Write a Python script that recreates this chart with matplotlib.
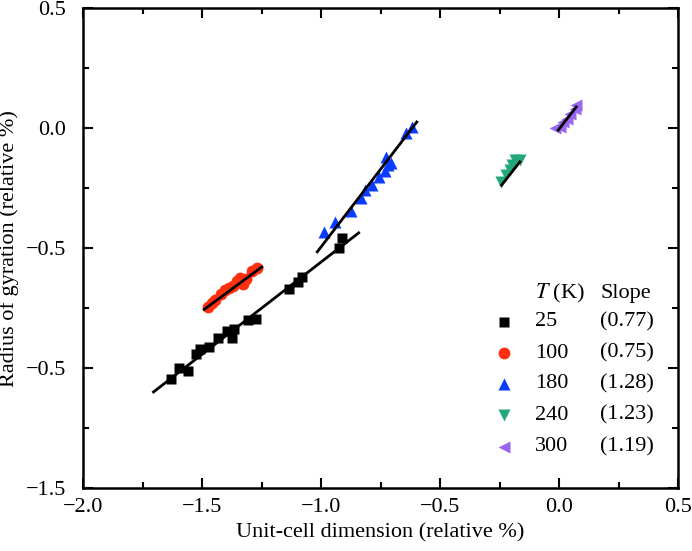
import numpy as np
import matplotlib
matplotlib.use('Agg')
import matplotlib.pyplot as plt
from matplotlib.ticker import FixedLocator, MultipleLocator

plt.rcParams['font.family'] = ['Liberation Serif', 'DejaVu Serif']
plt.rcParams['mathtext.fontset'] = 'stix'

# 25 K
x25 = [-1.630, -1.598, -1.561, -1.524, -1.508, -1.470, -1.433, -1.397, -1.367,
       -1.374, -1.309, -1.274, -1.135, -1.096, -1.079, -0.925, -0.914]
y25 = [-1.047, -1.001, -1.010, -0.939, -0.921, -0.910, -0.876, -0.846, -0.838,
       -0.873, -0.801, -0.793, -0.668, -0.640, -0.620, -0.501, -0.459]
# 100 K
x100 = [-1.474, -1.457, -1.445, -1.420, -1.403, -1.386, -1.369, -1.353, -1.340,
        -1.327, -1.315, -1.290, -1.269]
y100 = [-0.746, -0.729, -0.717, -0.692, -0.675, -0.667, -0.658, -0.638, -0.625,
        -0.650, -0.629, -0.596, -0.583]
# 180 K
x180 = [-0.988, -0.942, -0.875, -0.834, -0.817, -0.787, -0.758, -0.733, -0.720,
        -0.729, -0.708, -0.645, -0.616]
y180 = [-0.433, -0.392, -0.346, -0.292, -0.258, -0.238, -0.204, -0.179, -0.154,
        -0.121, -0.146, -0.021, 0.004]
# 240 K
x240 = [-0.243, -0.222, -0.205, -0.197, -0.184, -0.163]
y240 = [-0.225, -0.196, -0.175, -0.154, -0.133, -0.133]
# 300 K
x300 = [-0.018, 0.003, 0.017, 0.031, 0.045, 0.066, 0.072]
y300 = [-0.001, 0.005, 0.026, 0.040, 0.061, 0.082, 0.096]

# fitted lines (end points)
fit25 = ([-1.704, -0.842], [-1.099, -0.436])
fit100 = ([-1.491, -1.249], [-0.755, -0.578])
fit180 = ([-1.016, -0.598], [-0.515, 0.026])
fit240 = ([-0.242, -0.165], [-0.2375, -0.140])
fit300 = ([-0.004, 0.072], [-0.008, 0.089])

temps = ['25', '100', '180', '240', '300']
slopes = ['(0.77)', '(0.75)', '(1.28)', '(1.23)', '(1.19)']
colors = ['black', '#ff3010', '#0a3cff', '#22a878', '#9966ee']
markers = ['s', 'o', '^', 'v', '<']
msizes = [7, 8.5, 9, 9, 9]

yticks = [0.5, 0.0, -0.5, -1.0, -1.5]
ytick_labels = ['0.5', '0.0', '\u22120.5', '\u22120.5', '\u22121.5']

xs = [x25, x100, x180, x240, x300]
ys = [y25, y100, y180, y240, y300]
fits = [fit25, fit100, fit180, fit240, fit300]

fig = plt.figure(figsize=(6.92, 5.51), dpi=100)
ax = fig.add_axes([0.120, 0.114, 0.860, 0.871])

for x, y, c, m, s in zip(xs, ys, colors, markers, msizes):
    ax.plot(x, y, ls='none', marker=m, color=c, ms=s, mec='none')
for fx, fy in fits:
    ax.plot(fx, fy, color='black', lw=2)

ax.set_xlim(-2.0, 0.5)
ax.set_ylim(-1.5, 0.5)
ax.xaxis.set_major_locator(MultipleLocator(0.5))
ax.xaxis.set_minor_locator(MultipleLocator(0.25))
ax.yaxis.set_major_locator(FixedLocator(yticks))
ax.set_yticklabels(ytick_labels)
ax.yaxis.set_minor_locator(MultipleLocator(0.25))
ax.xaxis.set_major_formatter(plt.FuncFormatter(lambda v, p: ('%.1f' % v).replace('-', '\u2212')))
ax.tick_params(which='both', direction='in', top=True, right=True, width=1.5,
               labelsize=16)
ax.tick_params(which='major', length=7)
ax.tick_params(which='minor', length=4)
ax.tick_params(axis='y', pad=12)
ax.tick_params(axis='x', pad=7)
for sp in ax.spines.values():
    sp.set_linewidth(1.8)

ax.set_xlabel('Unit-cell dimension (relative %)', fontsize=16)
ax.set_ylabel('Radius of gyration (relative %)', fontsize=16)
ax.xaxis.set_label_coords(0.5, -0.072)
ax.yaxis.set_label_coords(-0.108, 0.5)

# legend table
ax.text(0.760, 0.406, r'$T$ (K)', transform=ax.transAxes, fontsize=16,
        va='center', ha='left')
ax.text(0.869, 0.406, 'Slope', transform=ax.transAxes, fontsize=16,
        va='center', ha='left')
rows = [0.3465, 0.281, 0.218, 0.152, 0.086]
for r, t, sl, c, m, s in zip(rows, temps, slopes, colors, markers, msizes):
    ax.plot([0.707], [r], transform=ax.transAxes, ls='none', marker=m,
            color=c, ms=s, mec='none')
    ax.text(0.760, r, t, transform=ax.transAxes, fontsize=16, va='center',
            ha='left')
    ax.text(0.869, r, sl, transform=ax.transAxes, fontsize=16, va='center',
            ha='left')

fig.savefig('out.png', dpi=100)
